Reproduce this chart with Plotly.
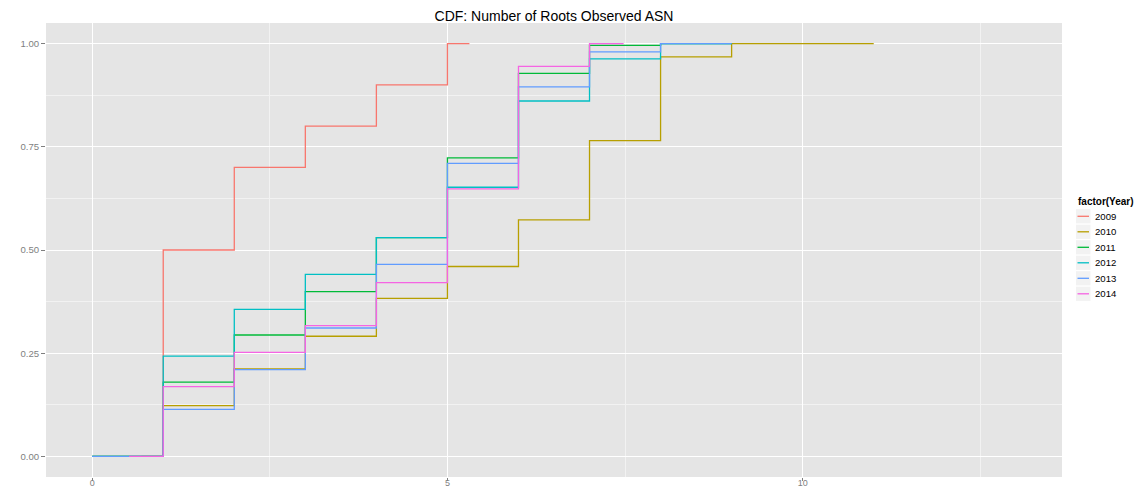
import plotly.graph_objects as go

# Empirical CDF of the number of roots observed per ASN, one step line per year.
years = ["2009", "2010", "2011", "2012", "2013", "2014"]
colors = ["#F8766D", "#B79F00", "#00BA38", "#00BFC4", "#619CFF", "#F564E3"]

roots_2009 = [0.69, 1, 2, 3, 4, 5, 5.31]
cdf_2009 = [0.0, 0.50, 0.70, 0.80, 0.90, 1.00, 1.00]

roots_2010 = [0, 1, 2, 3, 4, 5, 6, 7, 8, 9, 11]
cdf_2010 = [0.0, 0.123, 0.212, 0.291, 0.383, 0.460, 0.573, 0.765, 0.968, 1.00, 1.00]

roots_2011 = [0, 1, 2, 3, 4, 5, 6, 7, 8, 9]
cdf_2011 = [0.0, 0.180, 0.294, 0.399, 0.530, 0.723, 0.928, 0.996, 1.00, 1.00]

roots_2012 = [0, 1, 2, 3, 4, 5, 6, 7, 8, 9]
cdf_2012 = [0.0, 0.243, 0.356, 0.441, 0.530, 0.652, 0.861, 0.963, 1.00, 1.00]

roots_2013 = [0, 1, 2, 3, 4, 5, 6, 7, 8, 9]
cdf_2013 = [0.0, 0.114, 0.210, 0.311, 0.465, 0.710, 0.895, 0.980, 1.00, 1.00]

roots_2014 = [0.52, 1, 2, 3, 4, 5, 6, 7, 7.48]
cdf_2014 = [0.0, 0.169, 0.252, 0.317, 0.421, 0.648, 0.945, 1.00, 1.00]

x_ticks = [0, 5, 10]
y_ticks = [0.0, 0.25, 0.5, 0.75, 1.0]
y_tick_labels = ["0.00", "0.25", "0.50", "0.75", "1.00"]

series = [
    (roots_2009, cdf_2009),
    (roots_2010, cdf_2010),
    (roots_2011, cdf_2011),
    (roots_2012, cdf_2012),
    (roots_2013, cdf_2013),
    (roots_2014, cdf_2014),
]

W, H = 1146, 488
PANEL_L, PANEL_R, PANEL_T, PANEL_B = 46, 1062, 23, 477
FONT = "Liberation Sans, Arial, sans-serif"
GREY_TEXT = "#7F7F7F"

fig = go.Figure()
for year, color, (xs, ys) in zip(years, colors, series):
    fig.add_trace(go.Scatter(
        x=xs, y=ys, mode="lines", name=year,
        line=dict(color=color, width=1.3, shape="hv"),
        showlegend=False, hoverinfo="x+y+name",
    ))


def px_x(px):
    return (px - PANEL_L) / (PANEL_R - PANEL_L)


def px_y(py):
    return (PANEL_B - py) / (PANEL_B - PANEL_T)


# Hand-built legend in the right margin: grey key boxes, coloured key lines, labels.
shapes = []
annotations = [dict(
    text="<b>factor(Year)</b>", x=px_x(1076), y=px_y(202), xref="paper", yref="paper",
    xanchor="left", yanchor="middle", showarrow=False,
    font=dict(family=FONT, size=10, color="#000000"),
)]
row0, row_step = 216.3, 15.5
for i, (year, color) in enumerate(zip(years, colors)):
    cy = row0 + i * row_step
    shapes.append(dict(
        type="rect", xref="paper", yref="paper",
        x0=px_x(1076), x1=px_x(1090.5), y0=px_y(cy + 7.1), y1=px_y(cy - 7.1),
        fillcolor="#F2F2F2", line=dict(width=0), layer="above",
    ))
    shapes.append(dict(
        type="line", xref="paper", yref="paper",
        x0=px_x(1077.5), x1=px_x(1089), y0=px_y(cy), y1=px_y(cy),
        line=dict(color=color, width=1.3), layer="above",
    ))
    annotations.append(dict(
        text=year, x=px_x(1092.5), y=px_y(cy), xref="paper", yref="paper",
        xanchor="left", yanchor="middle", showarrow=False,
        font=dict(family=FONT, size=9.6, color="#000000"),
    ))

fig.update_layout(
    width=W, height=H,
    margin=dict(l=PANEL_L, r=W - PANEL_R, t=PANEL_T, b=H - PANEL_B, pad=0),
    paper_bgcolor="#FFFFFF",
    plot_bgcolor="#E5E5E5",
    showlegend=False,
    title=dict(
        text="CDF: Number of Roots Observed ASN",
        x=(PANEL_L + PANEL_R) / 2 / W, xanchor="center",
        y=1 - 16 / H, yanchor="middle",
        font=dict(family=FONT, size=14, color="#000000"),
    ),
    xaxis=dict(
        range=[-0.65, 13.65], tickvals=x_ticks, ticktext=[str(v) for v in x_ticks],
        automargin=False,
        showgrid=True, gridcolor="#FFFFFF", gridwidth=1.1,
        minor=dict(dtick=2.5, tick0=0, showgrid=True, gridcolor="#F2F2F2", gridwidth=0.6, ticklen=0),
        zeroline=False, showline=False,
        ticks="outside", ticklen=3, tickwidth=1, tickcolor=GREY_TEXT,
        ticklabelstandoff=-6,
        tickfont=dict(family=FONT, size=9, color=GREY_TEXT),
    ),
    yaxis=dict(
        range=[-0.05, 1.05], tickvals=y_ticks, ticktext=y_tick_labels,
        automargin=False,
        showgrid=True, gridcolor="#FFFFFF", gridwidth=1.1,
        minor=dict(dtick=0.125, tick0=0, showgrid=True, gridcolor="#F2F2F2", gridwidth=0.6, ticklen=0),
        zeroline=False, showline=False,
        ticks="outside", ticklen=4, tickwidth=1, tickcolor=GREY_TEXT,
        tickfont=dict(family=FONT, size=9.6, color=GREY_TEXT),
    ),
    shapes=shapes,
    annotations=annotations,
)

fig.write_html("out.html")
